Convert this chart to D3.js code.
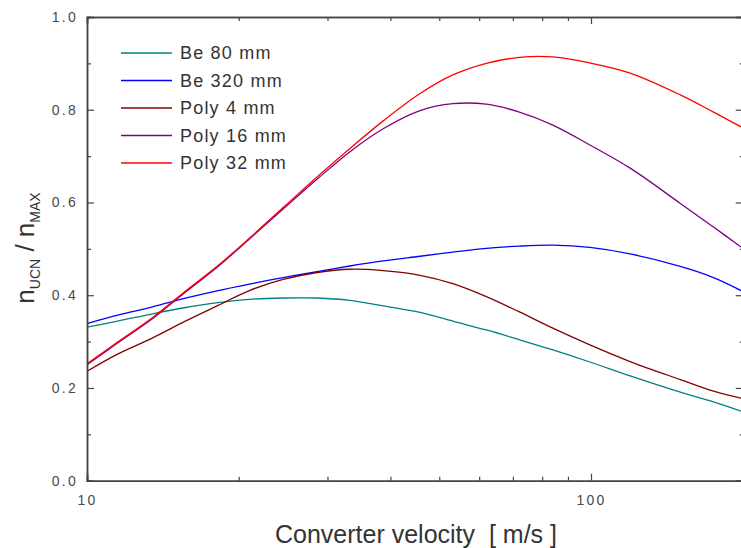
<!DOCTYPE html>
<html>
<head>
<meta charset="utf-8">
<script src="https://cdn.jsdelivr.net/npm/d3@7"></script>
<style>
  html, body { margin: 0; padding: 0; background: #fff; overflow: hidden; }
  svg { display: block; font-family: "Liberation Sans", Arial, sans-serif; }
</style>
</head>
<body>
<div id="chart"></div>
<script>
// converter velocity [m/s], shared by all curves
const velocity = [10, 11.5, 13.5, 15.6, 18.2, 21, 24.5, 28.6, 33.2, 38.7, 45.8, 53.2, 62, 72.1, 84, 99.5, 119.6, 150.4, 175, 198.5];

const be80   = [0.331, 0.344, 0.360, 0.373, 0.384, 0.391, 0.394, 0.394, 0.389, 0.377, 0.363, 0.344, 0.325, 0.304, 0.282, 0.256, 0.226, 0.191, 0.170, 0.150];
const be320  = [0.339, 0.357, 0.375, 0.393, 0.410, 0.424, 0.438, 0.451, 0.463, 0.474, 0.484, 0.493, 0.501, 0.506, 0.508, 0.503, 0.489, 0.462, 0.438, 0.410];
const poly4  = [0.236, 0.273, 0.308, 0.343, 0.378, 0.410, 0.434, 0.449, 0.456, 0.453, 0.443, 0.425, 0.397, 0.364, 0.329, 0.293, 0.257, 0.218, 0.193, 0.178];
const poly16 = [0.250, 0.297, 0.350, 0.405, 0.462, 0.521, 0.586, 0.650, 0.709, 0.759, 0.798, 0.813, 0.812, 0.795, 0.767, 0.724, 0.674, 0.598, 0.547, 0.504];
const poly32 = [0.252, 0.299, 0.352, 0.407, 0.464, 0.523, 0.589, 0.655, 0.716, 0.776, 0.835, 0.875, 0.900, 0.913, 0.914, 0.901, 0.879, 0.832, 0.795, 0.763];

const seriesNames  = ["Be 80 mm", "Be 320 mm", "Poly 4 mm", "Poly 16 mm", "Poly 32 mm"];
const seriesValues = [be80, be320, poly4, poly16, poly32];
const seriesColors = ["#008080", "#0000ff", "#800000", "#800080", "#ff0000"];

const yTicks = [0, 0.2, 0.4, 0.6, 0.8, 1.0];
const yMinorTicks = [0.1, 0.3, 0.5, 0.7, 0.9];
const xTicks = [10, 100];
const xMinorTicks = [20, 30, 40, 50, 60, 70, 80, 90, 200];

const width = 741, height = 548;
const plotLeft = 87, plotTop = 17, plotBottom = 480.7;

const x = d3.scaleLog().domain([10, 200]).range([plotLeft, plotLeft + 504 * Math.log10(20)]);
const y = d3.scaleLinear().domain([0, 1]).range([plotBottom, plotTop]);

const svg = d3.select("#chart").append("svg")
  .attr("width", width).attr("height", height);

// curves
const line = d3.line()
  .x((d, i) => x(velocity[i]))
  .y(d => y(d))
  .curve(d3.curveCatmullRom.alpha(0.5));

svg.append("g")
  .selectAll("path")
  .data(seriesValues)
  .enter()
  .append("path")
  .attr("d", d => line(d))
  .attr("fill", "none")
  .attr("stroke", (d, i) => seriesColors[i])
  .attr("stroke-width", 1.3);

// axes, ticks point inward
const frame = "#444";

function styleAxis(g) {
  g.attr("font-family", "'Liberation Sans', Arial, sans-serif");
  g.select(".domain").attr("stroke", frame).attr("stroke-width", 1.5);
  g.selectAll(".tick line").attr("stroke", frame).attr("stroke-width", 1.2);
  g.selectAll(".tick text")
    .attr("fill", "#4a4a4a")
    .attr("font-size", 14)
    .attr("letter-spacing", "2.3px");
}

svg.append("g")
  .attr("transform", `translate(${plotLeft},0)`)
  .call(d3.axisLeft(y).tickValues(yTicks).tickFormat(d3.format(".1f")).tickSize(-7).tickPadding(9))
  .call(styleAxis);
svg.append("g")
  .attr("transform", `translate(${plotLeft},0)`)
  .call(d3.axisLeft(y).tickValues(yMinorTicks).tickFormat("").tickSize(-4))
  .call(styleAxis);

svg.append("g")
  .attr("transform", `translate(${x.range()[1]},0)`)
  .call(d3.axisRight(y).tickValues(yTicks).tickFormat("").tickSize(-7))
  .call(styleAxis);
svg.append("g")
  .attr("transform", `translate(${x.range()[1]},0)`)
  .call(d3.axisRight(y).tickValues(yMinorTicks).tickFormat("").tickSize(-3))
  .call(styleAxis);

svg.append("g")
  .attr("transform", `translate(0,${plotBottom})`)
  .call(d3.axisBottom(x).tickValues(xTicks).tickFormat(d3.format("d")).tickSize(-7).tickPadding(14))
  .call(styleAxis);
svg.append("g")
  .attr("transform", `translate(0,${plotBottom})`)
  .call(d3.axisBottom(x).tickValues(xMinorTicks).tickFormat("").tickSize(-4))
  .call(styleAxis);

svg.append("g")
  .attr("transform", `translate(0,${plotTop})`)
  .call(d3.axisTop(x).tickValues(xTicks).tickFormat("").tickSize(-7))
  .call(styleAxis);
svg.append("g")
  .attr("transform", `translate(0,${plotTop})`)
  .call(d3.axisTop(x).tickValues(xMinorTicks).tickFormat("").tickSize(-4))
  .call(styleAxis);

// axis titles
svg.append("text")
  .attr("x", 416).attr("y", 543)
  .attr("text-anchor", "middle")
  .attr("font-size", 25)
  .attr("fill", "#333")
  .text("Converter velocity \u00a0[ m/s ]");

const yTitle = svg.append("text")
  .attr("transform", "translate(34,248) rotate(-90)")
  .attr("text-anchor", "middle")
  .attr("font-size", 26)
  .attr("fill", "#333");
yTitle.append("tspan").text("n");
yTitle.append("tspan").attr("font-size", 14).attr("dy", 6).text("UCN");
yTitle.append("tspan").attr("dy", -6).text(" / n");
yTitle.append("tspan").attr("font-size", 14).attr("dy", 6).text("MAX");

// legend
const legend = svg.append("g")
  .selectAll("g")
  .data(seriesNames)
  .enter()
  .append("g")
  .attr("transform", (d, i) => `translate(121,${53 + i * 27.5})`);

legend.append("line")
  .attr("x1", 0).attr("x2", 51)
  .attr("stroke", (d, i) => seriesColors[i])
  .attr("stroke-width", 1.3);

legend.append("text")
  .attr("x", 59).attr("dy", "0.35em")
  .attr("font-size", 18)
  .attr("letter-spacing", "1.2px")
  .attr("fill", "#333")
  .text(d => d);
</script>
</body>
</html>
